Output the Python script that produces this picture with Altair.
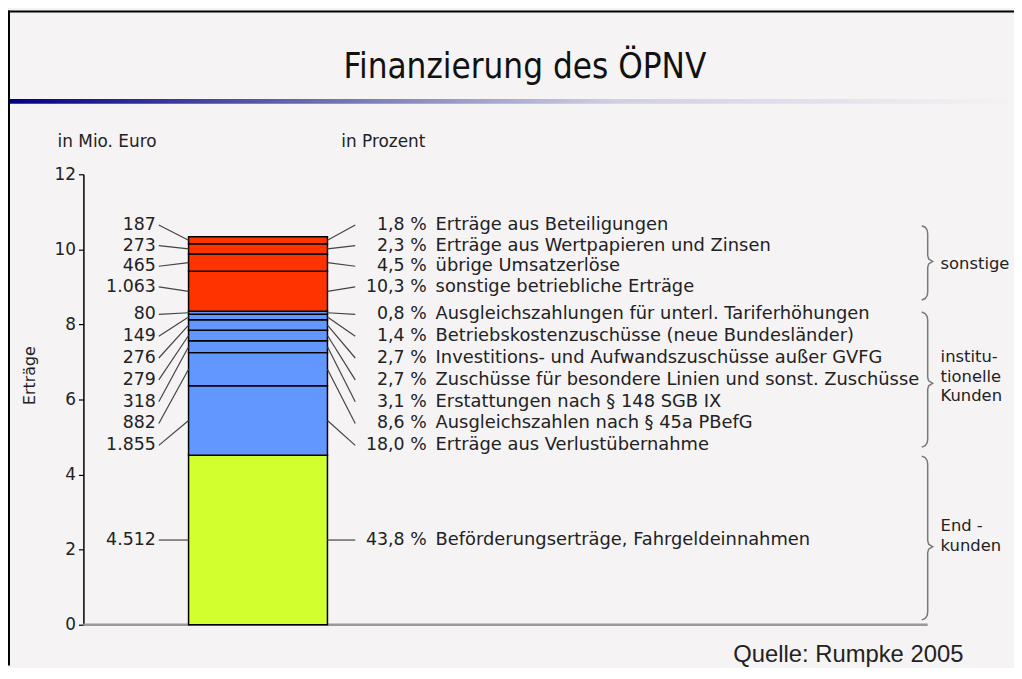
import altair as alt
import pandas as pd

# ---- data (bottom -> top of the stacked bar), values in Mio. Euro ----
values = [4512, 1855, 882, 318, 279, 276, 149, 80, 1063, 465, 273, 187]
percents = [43.8, 18.0, 8.6, 3.1, 2.7, 2.7, 1.4, 0.8, 10.3, 4.5, 2.3, 1.8]
descriptions = [
    "Beförderungserträge, Fahrgeldeinnahmen",
    "Erträge aus Verlustübernahme",
    "Ausgleichszahlen nach § 45a PBefG",
    "Erstattungen nach § 148 SGB IX",
    "Zuschüsse für besondere Linien und sonst. Zuschüsse",
    "Investitions- und Aufwandszuschüsse außer GVFG",
    "Betriebskostenzuschüsse (neue Bundesländer)",
    "Ausgleichszahlungen für unterl. Tariferhöhungen",
    "sonstige betriebliche Erträge",
    "übrige Umsatzerlöse",
    "Erträge aus Wertpapieren und Zinsen",
    "Erträge aus Beteiligungen",
]
groups = ["end"] + ["inst"] * 7 + ["sonst"] * 4
group_colors = {"end": "#d2ff2e", "inst": "#6197ff", "sonst": "#ff3300"}
brace_groups = ["sonstige", "institu-\ntionelle\nKunden", "End -\nkunden"]
y_ticks = [0, 2, 4, 6, 8, 10, 12]

# ---- layout constants ----
W, H = 936, 454
BAR_X0, BAR_X1 = 106, 246
FONT = "DejaVu Sans"
TXT = "#222222"
NUM = 17.5
DESC = 18

xs = alt.Scale(domain=[0, W], nice=False, zero=False)
ys = alt.Scale(domain=[0, 12], nice=False, zero=False)
yaxis = alt.Axis(values=y_ticks, title=None, grid=False, domainColor="black", domainWidth=1.5,
                 tickColor="black", tickSize=5, tickWidth=1.2, labelFont=FONT, labelFontSize=17,
                 labelColor=TXT, labelPadding=3, format="d")

rows = []
cum = 0.0
for i, v in enumerate(values):
    y0 = cum
    y1 = cum + v / 1000.0
    cum = y1
    rows.append(dict(i=i, v=v, y0=y0, y1=y1, mid=(y0 + y1) / 2, grp=groups[i],
                     color=group_colors[groups[i]],
                     vlab=f"{v:,}".replace(",", "."),
                     plab=f"{percents[i]:.1f}".replace(".", ",") + " %",
                     desc=descriptions[i]))
df = pd.DataFrame(rows)

label_y = []
for i in range(len(values)):
    if groups[i] == "end":
        label_y.append(df.loc[i, "mid"])
    elif groups[i] == "inst":
        label_y.append(8.27 - (7 - i) * 0.582)
    else:
        label_y.append(10.65 - (11 - i) * 0.55)
df["ly"] = label_y
df["lx_text"] = 73
df["lx0"] = 76
df["lx1"] = BAR_X0
df["rx0"] = BAR_X1
df["rx1"] = 274
df["px"] = 346
df["dx"] = 355
df["bx0"] = BAR_X0
df["bx1"] = BAR_X1

seg = []
for _, r in df.iterrows():
    seg.append(dict(k=f"L{r.i}", o=0, x=r.lx0, y=r.ly))
    seg.append(dict(k=f"L{r.i}", o=1, x=r.lx1, y=r.mid))
    seg.append(dict(k=f"R{r.i}", o=0, x=r.rx0, y=r.mid))
    seg.append(dict(k=f"R{r.i}", o=1, x=r.rx1, y=r.ly))
segdf = pd.DataFrame(seg)

brace_spans = [(10.63, 8.65, 9.68), (8.33, 4.73, 6.43), (4.49, 0.13, 2.08)]
brace_text_y = [9.62, 7.14, 2.62]
bpts = []
k = 37.83
for b, (T, B, M) in enumerate(brace_spans):
    pts = [(845, T), (848.5, T - 1.5 / k), (850.5, T - 4.5 / k), (851, T - 8 / k),
           (851, M + 6 / k), (852, M + 2.5 / k), (856, M), (852, M - 2.5 / k),
           (851, M - 6 / k), (851, B + 8 / k), (850.5, B + 4.5 / k),
           (848.5, B + 1.5 / k), (845, B)]
    for o, (x, y) in enumerate(pts):
        bpts.append(dict(b=b, o=o, x=x, y=y))
bdf = pd.DataFrame(bpts)
btext = pd.DataFrame(dict(t=[s.split("\n") for s in brace_groups],
                          x=[864, 864, 864], y=brace_text_y))

base_df = pd.DataFrame({"x0": [0], "x1": [851], "y": [0]})
one = pd.DataFrame({"a": [0]})

X = lambda f: alt.X(f, scale=xs, axis=None)
Y = lambda f: alt.Y(f, scale=ys, axis=yaxis)

frame_top = alt.Chart(one).mark_rect(color="black").encode(
    x=alt.value(-76), x2=alt.value(940), y=alt.value(-165), y2=alt.value(-163))
frame_left = alt.Chart(one).mark_rect(color="black").encode(
    x=alt.value(-76), x2=alt.value(-74), y=alt.value(-165), y2=alt.value(495))
grad = alt.Chart(one).mark_rect(
    fill=alt.Gradient(gradient="linear", x1=0, x2=1, y1=0, y2=0, stops=[
        alt.GradientStop(color="#000088", offset=0),
        alt.GradientStop(color="#6a6ab0", offset=0.3),
        alt.GradientStop(color="#cfcfe3", offset=0.6),
        alt.GradientStop(color="#f5f3f4", offset=1)])
).encode(x=alt.value(-74), x2=alt.value(940), y=alt.value(-76), y2=alt.value(-71))
title = alt.Chart(one).mark_text(text="Finanzierung des ÖPNV", font="DejaVu Sans Condensed",
                                 fontSize=35, color="#111", align="center", baseline="middle").encode(
    x=alt.value(445), y=alt.value(-108))
head1 = alt.Chart(one).mark_text(text="in Mio. Euro", font=FONT, fontSize=17, color=TXT,
                                 align="left", baseline="middle").encode(x=alt.value(-26), y=alt.value(-33))
head2 = alt.Chart(one).mark_text(text="in Prozent", font=FONT, fontSize=17, color=TXT,
                                 align="left", baseline="middle").encode(x=alt.value(260), y=alt.value(-33))
ytitle = alt.Chart(one).mark_text(text="Erträge", font=FONT, fontSize=16, color=TXT, angle=270,
                                  align="center", baseline="middle").encode(x=alt.value(-54), y=alt.value(203))
source = alt.Chart(one).mark_text(text="Quelle: Rumpke 2005", font="Liberation Sans", fontSize=24,
                                  color=TXT, align="left", baseline="middle").encode(x=alt.value(655), y=alt.value(485))

axis_layer = alt.Chart(df).mark_point(opacity=0).encode(x=X("rx0:Q"), y=Y("ly:Q"))

baseline = alt.Chart(base_df).mark_rule(color="#9a9a9a", strokeWidth=2.5).encode(
    x=X("x0:Q"), x2="x1:Q", y=Y("y:Q"))

bars = alt.Chart(df).mark_rect(stroke="black", strokeWidth=1.5).encode(
    x=X("bx0:Q"), x2="bx1:Q",
    y=Y("y0:Q"), y2="y1:Q",
    fill=alt.Fill("color:N", scale=None))

leaders = alt.Chart(segdf).mark_line(color="#444", strokeWidth=1.2).encode(
    x=X("x:Q"), y=Y("y:Q"), detail="k:N", order="o:Q")

vtext = alt.Chart(df).mark_text(font=FONT, fontSize=NUM, color=TXT, align="right", baseline="middle").encode(
    x=X("lx_text:Q"), y=Y("ly:Q"), text="vlab:N")
ptext = alt.Chart(df).mark_text(font=FONT, fontSize=NUM, color=TXT, align="right", baseline="middle").encode(
    x=X("px:Q"), y=Y("ly:Q"), text="plab:N")
dtext = alt.Chart(df).mark_text(font=FONT, fontSize=DESC, color=TXT, align="left", baseline="middle").encode(
    x=X("dx:Q"), y=Y("ly:Q"), text="desc:N")

braces = alt.Chart(bdf).mark_line(color="#7a7a7a", strokeWidth=1.5).encode(
    x=X("x:Q"), y=Y("y:Q"), detail="b:N", order="o:Q")
bt = alt.Chart(btext).mark_text(font=FONT, fontSize=16.5, color=TXT, align="left", baseline="middle",
                                lineHeight=20).encode(x=X("x:Q"), y=Y("y:Q"), text="t")

chart = alt.layer(
    frame_top, frame_left, grad, title, head1, head2, ytitle, source,
    axis_layer, baseline, bars, leaders, vtext, ptext, dtext, braces, bt
).properties(
    width=W, height=H,
    padding={"left": 76, "top": 165, "right": 2, "bottom": 41},
    autosize="none", background="#f5f3f4"
).configure_view(stroke=None)

chart.save("out.html", embed_options={"renderer": "svg", "actions": False})
